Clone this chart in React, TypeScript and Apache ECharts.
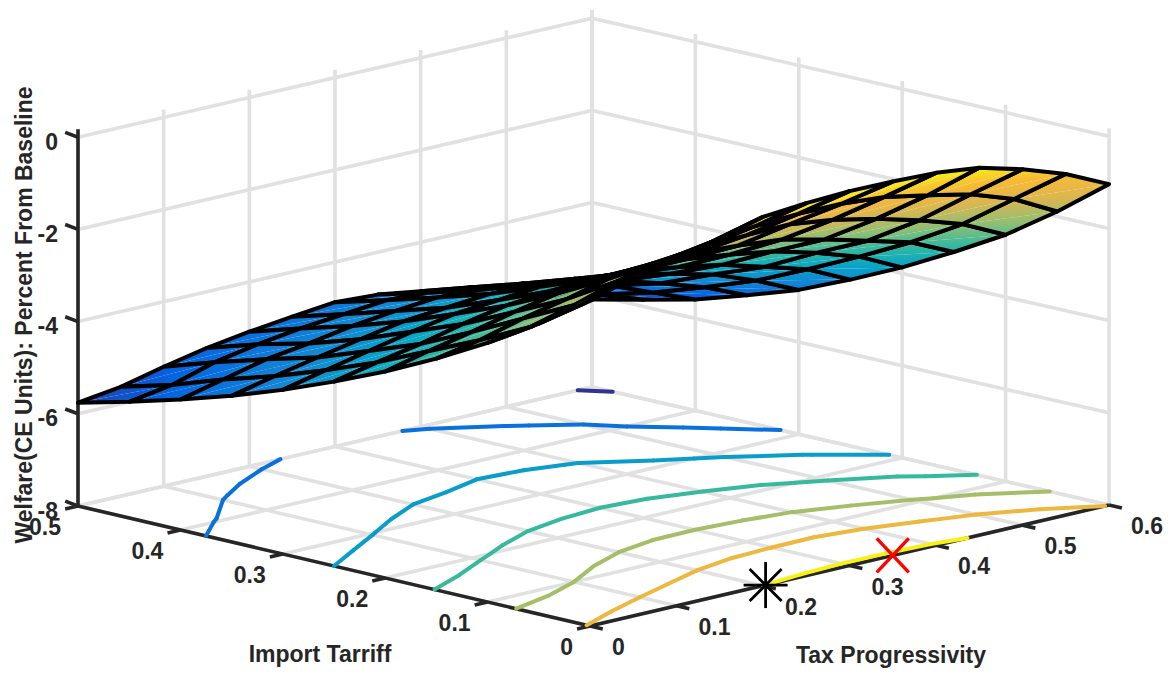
import React, { useEffect, useRef } from "react";
import * as echarts from "echarts";

// --- Data ---
const taxTicks = [0, 0.1, 0.2, 0.3, 0.4, 0.5, 0.6];
const tariffTicks = [0, 0.1, 0.2, 0.3, 0.4, 0.5];
const welfareTicks = [-8, -6, -4, -2, 0];
const welfareTop = 0.17;
const taxGrid = [0, 0.05, 0.1, 0.15, 0.2, 0.25, 0.3, 0.35, 0.4, 0.45, 0.5, 0.55, 0.6];
const tariffGrid = [0, 0.05, 0.1, 0.15, 0.2, 0.25, 0.3, 0.35, 0.4, 0.45, 0.5];
// rows: tariff, columns: tax
const welfare = [
  [-0.95, -0.65, -0.45, -0.25, 0.0, 0.08, 0.12, 0.11, 0.08, -0.03, -0.28, -0.6, -1.04],
  [-1.7, -1.5, -1.22, -1.0, -0.8, -0.68, -0.63, -0.63, -0.7, -0.88, -1.08, -1.4, -1.89],
  [-2.38, -2.25, -2.0, -1.7, -1.5, -1.38, -1.35, -1.33, -1.45, -1.65, -1.9, -2.2, -2.65],
  [-2.98, -2.8, -2.55, -2.35, -2.12, -2.01, -2.0, -2.05, -2.14, -2.35, -2.6, -2.85, -3.28],
  [-3.52, -3.3, -3.1, -2.88, -2.7, -2.58, -2.55, -2.6, -2.72, -2.87, -3.12, -3.42, -3.87],
  [-4.0, -3.8, -3.62, -3.4, -3.22, -3.13, -3.08, -3.12, -3.25, -3.42, -3.68, -3.95, -4.39],
  [-4.44, -4.23, -4.03, -3.83, -3.66, -3.58, -3.5, -3.55, -3.65, -3.87, -4.1, -4.45, -4.87],
  [-4.83, -4.62, -4.43, -4.25, -4.08, -4.0, -3.92, -3.94, -4.02, -4.28, -4.55, -4.85, -5.24],
  [-5.17, -4.95, -4.73, -4.6, -4.44, -4.33, -4.25, -4.3, -4.38, -4.63, -4.85, -5.22, -5.59],
  [-5.48, -5.33, -5.05, -4.88, -4.75, -4.66, -4.57, -4.62, -4.72, -4.93, -5.15, -5.52, -5.85],
  [-5.76, -5.63, -5.41, -5.22, -5.08, -4.97, -4.87, -4.92, -5.06, -5.26, -5.5, -5.8, -6.1],
];
const contourLevels = [-6, -5, -4, -3, -2, -1, 0];
const baselinePoint = [0.203, 0]; // tax, tariff
const optimumPoint = [0.35, 0]; // tax, tariff

const parula = ["#352a87", "#0363e1", "#1485d4", "#06a7c6", "#38b99e", "#92bf73", "#dcb650", "#f8ba34", "#f9fb0e"];
const GRID = "#e1e1e1";
const AXIS = "#262626";
const FONT = "bold 23px 'Liberation Sans', Arial, sans-serif";

const hex = (c: string) => [1, 3, 5].map((i) => parseInt(c.slice(i, i + 2), 16));
const zMin = -6.1;
const zMax = 0.12;
function colorOf(z: number) {
  const f = Math.max(0, Math.min(1, (z - zMin) / (zMax - zMin))) * (parula.length - 1);
  const i = Math.min(parula.length - 2, Math.floor(f));
  const a = hex(parula[i]);
  const b = hex(parula[i + 1]);
  const k = f - i;
  return `rgb(${a.map((v, n) => Math.round(v + (b[n] - v) * k)).join(",")})`;
}

// View of the box: where its floor corners fall on the page plane
const FRONT = [590, 626];
const LEFT = [78, 506];
const RIGHT = [1109, 505];
const BACK = [592, 387];
const Z_SCALE = 46.1;
function project(tax: number, tariff: number, z: number) {
  const u = tax / 0.6;
  const v = tariff / 0.5;
  const pick = (n: number) =>
    FRONT[n] * (1 - u) * (1 - v) + LEFT[n] * (1 - u) * v + RIGHT[n] * u * (1 - v) + BACK[n] * u * v;
  return [pick(0), pick(1) - (z + 8) * Z_SCALE];
}

// grid walls and floor: [tax1, tariff1, z1, tax2, tariff2, z2]
const gridLines: number[][] = [];
taxTicks.forEach((t) => {
  gridLines.push([t, 0.5, -8, t, 0.5, welfareTop]);
  gridLines.push([t, 0, -8, t, 0.5, -8]);
});
tariffTicks.forEach((r) => {
  gridLines.push([0.6, r, -8, 0.6, r, welfareTop]);
  gridLines.push([0, r, -8, 0.6, r, -8]);
});
welfareTicks.forEach((z) => {
  gridLines.push([0, 0.5, z, 0.6, 0.5, z]);
  gridLines.push([0.6, 0.5, z, 0.6, 0, z]);
});

const axisLines: number[][] = [
  [0, 0, -8, 0.6, 0, -8],
  [0, 0, -8, 0, 0.5, -8],
  [0, 0.5, -8, 0, 0.5, welfareTop],
];
taxTicks.forEach((t) => axisLines.push([t, 0, -8, t, -0.0125, -8]));
tariffTicks.forEach((r) => axisLines.push([0, r, -8, -0.015, r, -8]));
welfareTicks.forEach((z) => axisLines.push([0, 0.5, z, 0, 0.5125, z + 0.04]));

// Contours on the floor, from the surface values
const contourSegs: number[][] = [];
contourLevels.forEach((level, li) => {
  for (let i = 0; i < tariffGrid.length - 1; i++) {
    for (let j = 0; j < taxGrid.length - 1; j++) {
      const c = [
        [taxGrid[j], tariffGrid[i], welfare[i][j]],
        [taxGrid[j + 1], tariffGrid[i], welfare[i][j + 1]],
        [taxGrid[j + 1], tariffGrid[i + 1], welfare[i + 1][j + 1]],
        [taxGrid[j], tariffGrid[i + 1], welfare[i + 1][j]],
      ];
      const hits: number[][] = [];
      for (let e = 0; e < 4; e++) {
        const a = c[e];
        const b = c[(e + 1) % 4];
        if (a[2] < level !== b[2] < level) {
          const k = (level - a[2]) / (b[2] - a[2]);
          hits.push([a[0] + (b[0] - a[0]) * k, a[1] + (b[1] - a[1]) * k]);
        }
      }
      if (hits.length >= 2) contourSegs.push([hits[0][0], hits[0][1], hits[1][0], hits[1][1], li]);
      if (hits.length === 4) contourSegs.push([hits[2][0], hits[2][1], hits[3][0], hits[3][1], li]);
    }
  }
});

// Surface cells, farthest first
const cells: number[][] = [];
for (let i = 0; i < tariffGrid.length - 1; i++) for (let j = 0; j < taxGrid.length - 1; j++) cells.push([i, j]);
cells.sort((a, b) => b[0] / 10 + b[1] / 12 - (a[0] / 10 + a[1] / 12));

function triangle(p: number[][], z: number[]) {
  const ax = p[1][0] - p[0][0];
  const ay = p[1][1] - p[0][1];
  const bx = p[2][0] - p[0][0];
  const by = p[2][1] - p[0][1];
  const dz1 = z[1] - z[0];
  const dz2 = z[2] - z[0];
  const det = ax * by - ay * bx;
  const lo = Math.min(...z);
  const hi = Math.max(...z);
  let fill: any = colorOf((lo + hi) / 2);
  if (Math.abs(det) > 1e-3 && hi - lo > 1e-4) {
    const gx = (dz1 * by - dz2 * ay) / det;
    const gy = (ax * dz2 - bx * dz1) / det;
    const g2 = gx * gx + gy * gy;
    const sx = p[0][0] + (gx * (lo - z[0])) / g2;
    const sy = p[0][1] + (gy * (lo - z[0])) / g2;
    const ex = p[0][0] + (gx * (hi - z[0])) / g2;
    const ey = p[0][1] + (gy * (hi - z[0])) / g2;
    fill = new echarts.graphic.LinearGradient(
      sx, sy, ex, ey,
      [
        { offset: 0, color: colorOf(lo) },
        { offset: 0.5, color: colorOf((lo + hi) / 2) },
        { offset: 1, color: colorOf(hi) },
      ],
      true
    );
  }
  return { type: "polygon", shape: { points: p }, style: { fill, stroke: null } };
}

function lineSeries(name: string, data: number[][], color: string, width: number) {
  return {
    name,
    type: "custom",
    coordinateSystem: "cartesian2d",
    silent: true,
    clip: false,
    progressive: 0,
    data,
    renderItem: (_: any, api: any) => {
      const a = api.coord(project(api.value(0), api.value(1), api.value(2)));
      const b = api.coord(project(api.value(3), api.value(4), api.value(5)));
      return {
        type: "line",
        shape: { x1: a[0], y1: a[1], x2: b[0], y2: b[1] },
        style: { stroke: color, lineWidth: width, lineCap: "butt" },
      };
    },
  };
}

function markerSeries(name: string, point: number[], color: string, star: boolean) {
  return {
    name,
    type: "custom",
    coordinateSystem: "cartesian2d",
    silent: true,
    clip: false,
    progressive: 0,
    data: [point],
    renderItem: (_: any, api: any) => {
      const c = api.coord(project(api.value(0), api.value(1), -8));
      const arms = star
        ? [[22, 0], [0, 23], [16, 16], [16, -16]]
        : [[16, 17], [16, -17]];
      return {
        type: "group",
        children: arms.map((d) => ({
          type: "line",
          shape: { x1: c[0] - d[0], y1: c[1] - d[1], x2: c[0] + d[0], y2: c[1] + d[1] },
          style: { stroke: color, lineWidth: star ? 2.8 : 3.4 },
        })),
      };
    },
  };
}

function textEl(text: string, x: number, y: number, align: string, rotation = 0) {
  return {
    type: "text",
    x,
    y,
    rotation,
    z: 50,
    silent: true,
    style: { text, font: FONT, fill: AXIS, align, verticalAlign: "middle" },
  };
}

export default function App() {
  const ref = useRef<HTMLDivElement>(null);
  useEffect(() => {
    document.body.style.margin = "0";
    const chart = echarts.init(ref.current!, null, { renderer: "svg" });
    const labels: any[] = [];
    taxTicks.forEach((t) => {
      const p = project(t, 0, -8);
      labels.push(textEl(String(t), p[0] + 22, p[1] + 21, "left"));
    });
    tariffTicks.forEach((r) => {
      const p = project(0, r, -8);
      labels.push(textEl(String(r), p[0] - 17, p[1] + 21, "right"));
    });
    welfareTicks.forEach((z) => {
      const p = project(0, 0.5, z);
      labels.push(textEl(String(z), p[0] - 20, p[1] + 4.5, "right"));
    });
    labels.push(textEl("Import Tarriff", 320, 654, "center"));
    labels.push(textEl("Tax Progressivity", 891, 655, "center"));
    labels.push(textEl("Welfare(CE Units): Percent From Baseline", 24, 315, "center", Math.PI / 2));

    chart.setOption({
      animation: false,
      backgroundColor: "#ffffff",
      grid: { left: 0, right: 0, top: 0, bottom: 0 },
      xAxis: { type: "value", min: 0, max: 1169, show: false },
      yAxis: { type: "value", min: 0, max: 673, inverse: true, show: false },
      graphic: labels,
      series: [
        lineSeries("grid", gridLines, GRID, 3.6),
        lineSeries("axes", axisLines, AXIS, 3.6),
        {
          name: "contours",
          type: "custom",
          coordinateSystem: "cartesian2d",
          silent: true,
          clip: false,
          progressive: 0,
          data: contourSegs,
          renderItem: (_: any, api: any) => {
            const a = api.coord(project(api.value(0), api.value(1), -8));
            const b = api.coord(project(api.value(2), api.value(3), -8));
            return {
              type: "line",
              shape: { x1: a[0], y1: a[1], x2: b[0], y2: b[1] },
              style: {
                stroke: colorOf(contourLevels[api.value(4)]),
                lineWidth: 4,
                lineCap: "round",
              },
            };
          },
        },
        {
          name: "surface",
          type: "custom",
          coordinateSystem: "cartesian2d",
          silent: true,
          clip: false,
          progressive: 0,
          data: cells,
          renderItem: (_: any, api: any) => {
            const i = api.value(0);
            const j = api.value(1);
            const vertex = (a: number, b: number) =>
              api.coord(project(taxGrid[b], tariffGrid[a], welfare[a][b]));
            const bottom = vertex(i, j);
            const right = vertex(i, j + 1);
            const top = vertex(i + 1, j + 1);
            const left = vertex(i + 1, j);
            const zB = welfare[i][j];
            const zR = welfare[i][j + 1];
            const zT = welfare[i + 1][j + 1];
            const zL = welfare[i + 1][j];
            return {
              type: "group",
              children: [
                triangle([left, right, bottom], [zL, zR, zB]),
                triangle([left, right, top], [zL, zR, zT]),
                {
                  type: "polygon",
                  shape: { points: [bottom, right, top, left] },
                  style: { fill: "none", stroke: "#000000", lineWidth: 4, lineJoin: "round" },
                },
              ],
            };
          },
        },
        markerSeries("baseline", baselinePoint, "#000000", true),
        markerSeries("optimum", optimumPoint, "#ff0000", false),
      ],
    });
    return () => chart.dispose();
  }, []);
  return <div ref={ref} style={{ width: 1169, height: 673 }} />;
}
